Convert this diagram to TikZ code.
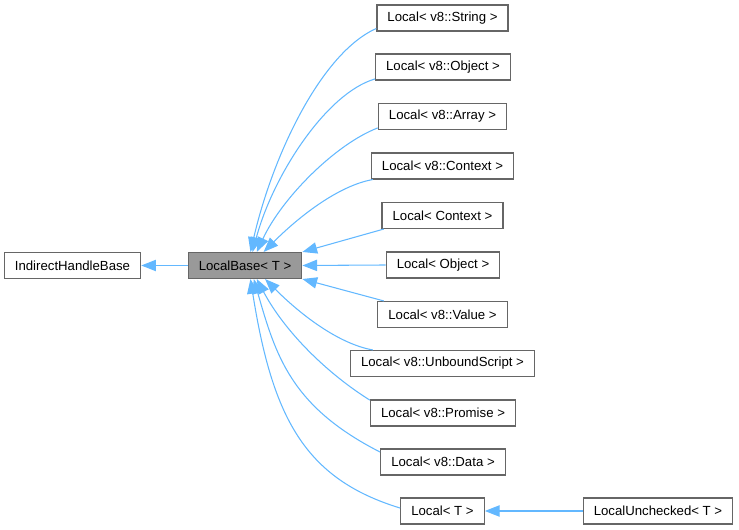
\documentclass[tikz,border=0pt]{standalone}
\usepackage{fontspec}
\setmainfont{Liberation Sans}
\usetikzlibrary{arrows.meta}

\definecolor{edgeblue}{HTML}{63B8FF}
\definecolor{boxgray}{HTML}{666666}
\definecolor{basefill}{HTML}{999999}

\tikzset{
    cls/.style={draw=boxgray, line width=1pt, fill=white, inner xsep=7.9pt,
        inner ysep=0pt, minimum height=19.3pt, font=\fontsize{9.9}{11}\selectfont},
    inherit/.style={draw=edgeblue, line width=0.8pt,
        -{Triangle[length=11pt,width=8.5pt]}},
}

\begin{document}
\begin{tikzpicture}[x=0.75pt, y=0.75pt]
    \useasboundingbox (0,0) rectangle (739,-530);

    % Base classes
    \node[cls] (ihb) at (72.5,-265.5) {IndirectHandleBase};
    \node[cls, fill=basefill] (base) at (245,-265.5) {LocalBase< T >};

    % Derived classes
    \node[cls] (str)  at (442.5,-18)   {Local< v8::String >};
    \node[cls] (obj)  at (443,-67)     {Local< v8::Object >};
    \node[cls] (arr)  at (442.5,-116.5) {Local< v8::Array >};
    \node[cls] (ctx)  at (442.5,-166)  {Local< v8::Context >};
    \node[cls] (lctx) at (442.5,-215.5) {Local< Context >};
    \node[cls] (lobj) at (443,-265)    {Local< Object >};
    \node[cls] (val)  at (442.5,-314.5) {Local< v8::Value >};
    \node[cls] (unb)  at (442.5,-363.5) {Local< v8::UnboundScript >};
    \node[cls] (prom) at (443,-413)    {Local< v8::Promise >};
    \node[cls] (data) at (443,-462)    {Local< v8::Data >};
    \node[cls] (lt)   at (442.5,-511)  {Local< T >};
    \node[cls] (lu)   at (658,-511)    {LocalUnchecked< T >};

    % Inheritance edges
    \draw[inherit] (base.west) -- (ihb.east);
    \draw[inherit] (str.189) .. controls +(204:60) and +(77:100) .. (base.68);
    \draw[inherit] (obj.190) .. controls +(196:50) and +(75:80) .. (base.61);
    \draw[inherit] (arr.190) .. controls +(201:45) and +(65:60) .. (base.49);
    \draw[inherit] (ctx.191) .. controls +(190:35) and +(45:50) .. (base.36);
    \draw[inherit] (lctx.193) -- (base.north east);
    \draw[inherit] (lobj.west) -- (base.east);
    \draw[inherit] (val.167) -- (base.south east);
    \draw[inherit] (unb.169) .. controls +(170:35) and +(-45:50) .. (base.-34);
    \draw[inherit] (prom.170) .. controls +(148:50) and +(-62:60) .. (base.-49);
    \draw[inherit] (data.171) .. controls +(153:100) and +(-74:80) .. (base.-57);
    \draw[inherit] (lt.176) .. controls +(163:100) and +(-81:140) .. (base.-68);
    \draw[inherit] (lu.west) -- (lt.east);
\end{tikzpicture}
\end{document}
